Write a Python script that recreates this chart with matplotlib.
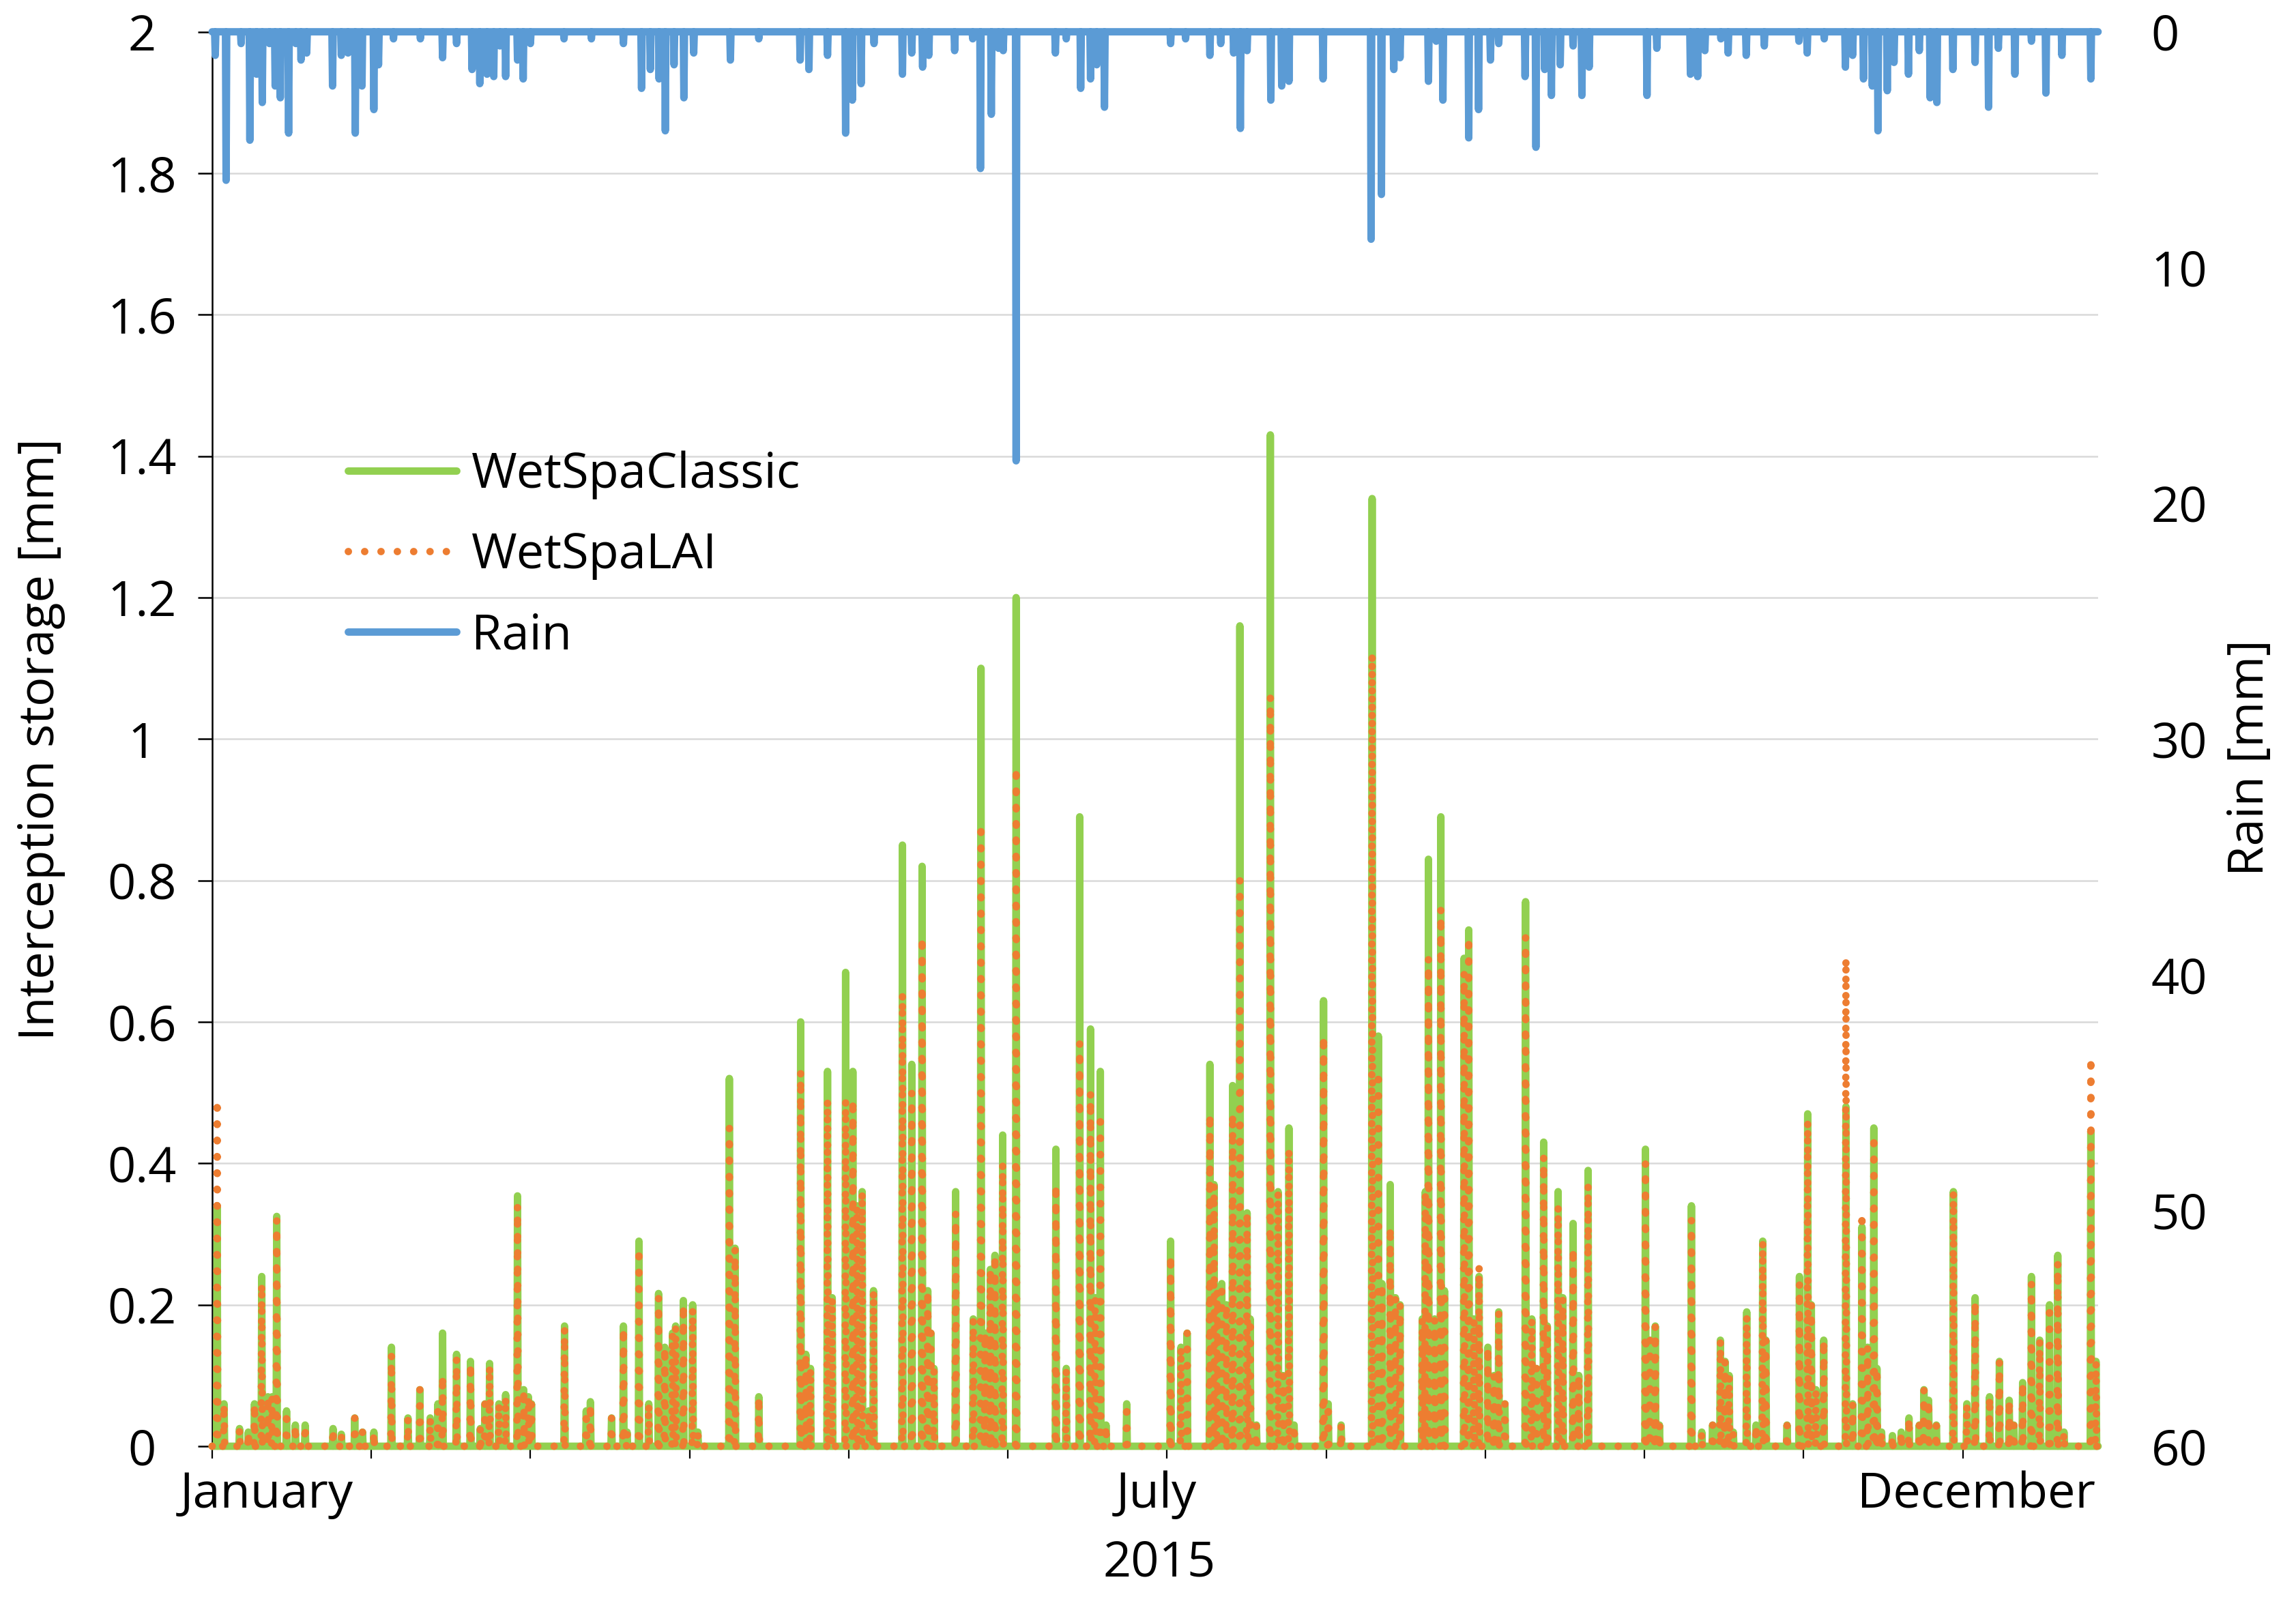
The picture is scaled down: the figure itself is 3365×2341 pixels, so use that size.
import matplotlib
matplotlib.use("Agg")
import matplotlib.pyplot as plt
import numpy as np

plt.rcParams['font.family'] = ['Open Sans', 'DejaVu Sans']

# ---------------- data (day of year 2015) ----------------
# Interception storage events: day, WetSpaClassic [mm], WetSpaLAI [mm]
int_days = [0.97, 2.3, 5.3, 7.0, 8.2, 9.6, 10.8, 11.6, 12.5, 14.4, 16.1, 18.0, 23.4, 25.0, 27.6, 29.1,
            31.3, 34.7, 37.9, 40.2, 42.2, 43.7, 44.6, 47.3, 50.0, 51.9, 52.8, 53.7, 55.5, 56.8, 59.1,
            60.3, 61.2, 61.8, 68.2, 72.4, 73.2, 77.3, 79.6, 80.3, 82.6, 84.5, 86.4, 87.6, 89.1, 89.7,
            91.2, 93.0, 94.0, 100.1, 101.2, 105.8, 113.9, 114.9, 115.8, 119.1, 120.0, 122.6, 124.0,
            124.8, 125.8, 127.1, 128.0, 133.6, 135.4, 137.4, 138.5, 139.1, 139.7, 143.9, 147.3, 148.8,
            149.6, 150.6, 151.5, 153.0, 155.6, 163.3, 165.3, 167.9, 170.0, 170.9, 171.9, 173.0, 177.0,
            185.5, 187.5, 188.7, 193.1, 193.9, 194.5, 195.4, 196.3, 197.5, 198.9, 200.3, 200.9, 202.1,
            204.8, 206.3, 207.3, 208.4, 209.4, 215.1, 216.0, 218.5, 224.5, 225.7, 226.4, 228.0, 229.0,
            229.9, 234.2, 234.8, 235.4, 236.6, 237.8, 238.5, 242.3, 243.2, 244.2, 245.2, 246.9, 248.1,
            249.0, 250.2, 254.2, 255.4, 256.3, 257.7, 258.4, 260.5, 261.4, 263.4, 264.5, 266.3, 277.4,
            278.3, 279.3, 280.1, 286.3, 288.3, 290.4, 291.9, 292.8, 293.6, 294.4, 297.0, 298.8, 300.1,
            300.7, 304.8, 307.2, 308.8, 309.5, 310.4, 311.9, 316.2, 317.5, 319.3, 320.4, 321.6, 322.2,
            323.1, 325.2, 326.9, 328.4, 330.4, 331.3, 332.2, 333.7, 337.0, 339.6, 341.2, 344.0, 345.9,
            347.8, 348.7, 350.4, 352.1, 353.7, 355.6, 357.2, 358.4, 363.6, 364.6]
classic = [0.34, 0.06, 0.025, 0.02, 0.06, 0.24, 0.07, 0.07, 0.325, 0.05, 0.03, 0.03, 0.025, 0.017, 0.04, 0.02,
           0.02, 0.14, 0.04, 0.08, 0.04, 0.06, 0.16, 0.13, 0.12, 0.025, 0.06, 0.117, 0.06, 0.073, 0.354,
           0.08, 0.07, 0.06, 0.17, 0.05, 0.063, 0.04, 0.17, 0.02, 0.29, 0.06, 0.216, 0.14, 0.16, 0.17,
           0.206, 0.20, 0.02, 0.52, 0.28, 0.07, 0.60, 0.13, 0.11, 0.53, 0.21, 0.67, 0.53,
           0.34, 0.36, 0.05, 0.22, 0.85, 0.54, 0.82, 0.22, 0.16, 0.11, 0.36, 0.18, 1.10,
           0.16, 0.25, 0.27, 0.44, 1.20, 0.42, 0.11, 0.89, 0.59, 0.21, 0.53, 0.03, 0.06,
           0.29, 0.14, 0.16, 0.54, 0.37, 0.22, 0.23, 0.20, 0.51, 1.16, 0.33, 0.18, 0.03,
           1.43, 0.36, 0.10, 0.45, 0.03, 0.63, 0.06, 0.03, 1.34, 0.58, 0.23, 0.37, 0.21,
           0.20, 0.18, 0.36, 0.83, 0.18, 0.89, 0.22, 0.69, 0.73, 0.18, 0.24, 0.14, 0.10,
           0.19, 0.06, 0.77, 0.18, 0.11, 0.43, 0.17, 0.36, 0.21, 0.315, 0.10, 0.39, 0.42,
           0.15, 0.17, 0.03, 0.34, 0.02, 0.03, 0.15, 0.12, 0.10, 0.02, 0.19, 0.03, 0.29,
           0.15, 0.03, 0.24, 0.47, 0.20, 0.08, 0.15, 0.48, 0.06, 0.31, 0.14, 0.45, 0.11,
           0.02, 0.015, 0.02, 0.04, 0.03, 0.08, 0.065, 0.03, 0.36, 0.06, 0.21, 0.07, 0.12,
           0.065, 0.03, 0.09, 0.24, 0.15, 0.20, 0.27, 0.02, 0.445, 0.12]
lai = [0.49, 0.06, 0.025, 0.02, 0.06, 0.23, 0.07, 0.07, 0.32, 0.05, 0.03, 0.03, 0.025, 0.017, 0.04, 0.02,
       0.02, 0.13, 0.04, 0.08, 0.04, 0.06, 0.10, 0.125, 0.117, 0.025, 0.06, 0.114, 0.06, 0.07, 0.34,
       0.08, 0.07, 0.06, 0.167, 0.05, 0.06, 0.04, 0.167, 0.02, 0.28, 0.06, 0.21, 0.14, 0.16, 0.17,
       0.20, 0.195, 0.02, 0.45, 0.28, 0.07, 0.53, 0.13, 0.11, 0.49, 0.21, 0.49, 0.49,
       0.34, 0.36, 0.05, 0.22, 0.64, 0.50, 0.72, 0.22, 0.16, 0.11, 0.33, 0.18, 0.88,
       0.16, 0.25, 0.27, 0.40, 0.96, 0.37, 0.11, 0.57, 0.50, 0.21, 0.47, 0.03, 0.06,
       0.27, 0.14, 0.16, 0.47, 0.37, 0.22, 0.23, 0.20, 0.47, 0.80, 0.33, 0.18, 0.03,
       1.06, 0.36, 0.10, 0.42, 0.03, 0.58, 0.06, 0.03, 1.12, 0.53, 0.23, 0.31, 0.21,
       0.20, 0.18, 0.36, 0.69, 0.18, 0.76, 0.22, 0.67, 0.72, 0.18, 0.255, 0.14, 0.10,
       0.19, 0.06, 0.72, 0.18, 0.11, 0.41, 0.17, 0.34, 0.21, 0.28, 0.10, 0.37, 0.40,
       0.15, 0.17, 0.03, 0.32, 0.02, 0.03, 0.15, 0.12, 0.10, 0.02, 0.185, 0.03, 0.29,
       0.15, 0.03, 0.23, 0.46, 0.20, 0.08, 0.15, 0.69, 0.06, 0.33, 0.14, 0.44, 0.11,
       0.02, 0.015, 0.02, 0.04, 0.03, 0.08, 0.065, 0.03, 0.36, 0.06, 0.205, 0.07, 0.12,
       0.065, 0.03, 0.09, 0.23, 0.15, 0.20, 0.26, 0.02, 0.55, 0.12]

# Rain events: day, rain [mm]
rain_days = [0.6, 2.7, 5.6, 7.3, 8.6, 9.7, 11.1, 12.2, 13.2, 14.8, 16.2, 17.2, 18.3, 23.3, 25.0, 26.3, 27.7,
             29.0, 31.3, 32.2, 35.1, 40.3, 44.6, 47.3, 50.3, 51.8, 53.2, 54.5, 55.7, 56.8, 59.1, 60.2, 61.6,
             68.1, 73.4, 79.6, 83.1, 84.8, 86.5, 87.7, 89.4, 91.3, 93.2, 100.3, 105.8, 113.8, 115.5, 119.1,
             122.6, 123.9, 125.6, 128.1, 133.6, 135.4, 137.5, 138.7, 143.7, 147.2, 148.7, 150.8, 152.2,
             153.1, 155.6, 163.2, 165.3, 168.1, 170.0, 171.2, 172.7, 185.5, 188.4, 193.1, 195.2, 197.7,
             199.0, 200.3, 204.9, 207.0, 208.4, 215.0, 224.3, 226.3, 228.7, 229.9, 235.4, 236.9, 238.2,
             243.2, 245.1, 247.4, 249.0, 254.1, 256.2, 257.9, 259.2, 260.9, 263.4, 265.1, 266.5, 277.7,
             279.6, 286.1, 287.5, 288.9, 292.0, 293.4, 296.9, 300.4, 307.1, 308.7, 312.0, 316.1, 317.5,
             319.6, 321.3, 322.4, 324.2, 325.5, 328.3, 330.4, 332.5, 333.8, 336.9, 341.2, 343.8, 345.7,
             348.9, 352.1, 354.9, 358.0, 363.6]
rain = [1.0, 6.3, 0.5, 4.6, 1.8, 3.0, 0.5, 2.3, 2.8, 4.3, 0.5, 1.2, 0.9, 2.3, 1.0, 0.9, 4.3,
        2.3, 3.3, 1.4, 0.3, 0.3, 1.1, 0.5, 1.6, 2.2, 1.8, 1.9, 0.6, 1.9, 1.2, 2.0, 0.5,
        0.3, 0.3, 0.5, 2.4, 1.6, 2.0, 4.2, 1.4, 2.8, 0.9, 1.2, 0.3, 1.2, 1.6, 1.0,
        4.3, 2.9, 2.2, 0.5, 1.8, 0.9, 1.5, 1.0, 0.8, 0.3, 5.8, 3.5, 0.7,
        0.8, 18.2, 0.9, 0.3, 2.4, 2.0, 1.4, 3.2, 0.5, 0.3, 1.0, 0.5, 0.9,
        4.1, 0.8, 2.9, 2.3, 2.1, 2.0, 8.8, 6.9, 1.6, 1.1, 2.1, 0.4, 2.9,
        4.5, 3.3, 1.2, 0.5, 1.9, 4.9, 1.6, 2.7, 1.4, 0.6, 2.7, 1.5, 2.7,
        0.7, 1.8, 1.9, 0.8, 0.3, 0.9, 1.0, 0.6, 0.4, 0.9, 0.3, 1.5, 1.0,
        2.0, 2.3, 4.2, 2.5, 1.3, 1.8, 0.8, 2.8, 3.0, 1.6, 1.3, 3.2, 0.7,
        1.8, 0.4, 2.6, 1.0, 2.0]

month_label_text = ["January", "July", "December"]
month_label_pos = [10.5, 182.8, 341.5]
year_label = "2015"
n_days = 365
tick_step = 30.8

GREEN = "#92D050"
ORANGE = "#ED7D31"
BLUE = "#5B9BD5"


def spike_series(days, vals, half=0.12):
    xs, ys = [0.0], [0.0]
    for d, v in zip(days, vals):
        xs += [d - half, d, d + half]
        ys += [0.0, v, 0.0]
    xs.append(n_days)
    ys.append(0.0)
    return np.array(xs), np.array(ys)


fig = plt.figure(figsize=(16.825, 11.705), dpi=200)
ax = fig.add_axes([0.0924, 0.0944, 0.8214, 0.8857])
ax2 = ax.twinx()

LW = 3.9
xc, yc = spike_series(int_days, classic)
xl, yl = spike_series(int_days, lai)
xr, yr = spike_series(rain_days, rain)

lc, = ax.plot(xc, yc, color=GREEN, lw=LW, solid_joinstyle='round', solid_capstyle='round',
              clip_on=False, zorder=3, label="WetSpaClassic")
ll, = ax.plot(xl, yl, color=ORANGE, lw=LW, linestyle=(0, (0.01, 2.2)), dash_capstyle='round',
              dash_joinstyle='round', clip_on=False, zorder=4, label="WetSpaLAI")
lr, = ax2.plot(xr, yr, color=BLUE, lw=LW, solid_joinstyle='round', solid_capstyle='round',
               clip_on=False, zorder=5, label="Rain")

# primary axis
ax.set_xlim(0, n_days)
ax.set_ylim(0, 2)
yt = np.round(np.arange(0, 2.01, 0.2), 1)
ax.set_yticks(yt)
ax.set_yticklabels([("%g" % v) for v in yt])
ax.yaxis.grid(True, color="#D9D9D9", lw=0.9)
ax.set_axisbelow(True)
ax.set_xticks([i * tick_step for i in range(12)])
ax.set_xticklabels([])
ax.tick_params(axis='x', direction='out', length=6.5, width=0.8, color='black')
ax.tick_params(axis='y', direction='out', length=7.5, width=0.9, color='black',
               labelsize=26, pad=29.5)
for lab in ax.get_yticklabels():
    lab.set_ha('center')
for s in ['top', 'right']:
    ax.spines[s].set_visible(False)
ax.spines['left'].set_color('black')
ax.spines['left'].set_linewidth(0.9)
ax.spines['bottom'].set_color('#BFBFBF')
ax.spines['bottom'].set_linewidth(0.9)

# secondary axis
ax2.set_ylim(60, 0)
ax2.set_yticks(np.arange(0, 61, 10))
ax2.tick_params(axis='y', length=0, labelsize=26, pad=28)
for s in ['top', 'right', 'left', 'bottom']:
    ax2.spines[s].set_visible(False)

# texts
for t, p in zip(month_label_text, month_label_pos):
    ax.text(p, -0.0345, t, transform=ax.get_xaxis_transform(), ha='center', va='center', fontsize=26)
ax.text(183.3, -0.083, year_label, transform=ax.get_xaxis_transform(), ha='center', va='center',
        fontsize=26)
ax.text(-0.0908, 0.5, "Interception storage [mm]", transform=ax.transAxes, rotation=90,
        ha='center', va='center', fontsize=26)
ax.text(1.0807, 0.487, "Rain [mm]", transform=ax.transAxes, rotation=90,
        ha='center', va='center', fontsize=26)

leg = ax.legend(handles=[lc, ll, lr], loc='upper left', bbox_to_anchor=(0.0722, 0.704),
                frameon=False, fontsize=26, handlelength=2.2, handletextpad=0.3,
                labelspacing=0.65, borderpad=0, borderaxespad=0)
leg.set_zorder(10)

fig.savefig("out.png", dpi=200)
